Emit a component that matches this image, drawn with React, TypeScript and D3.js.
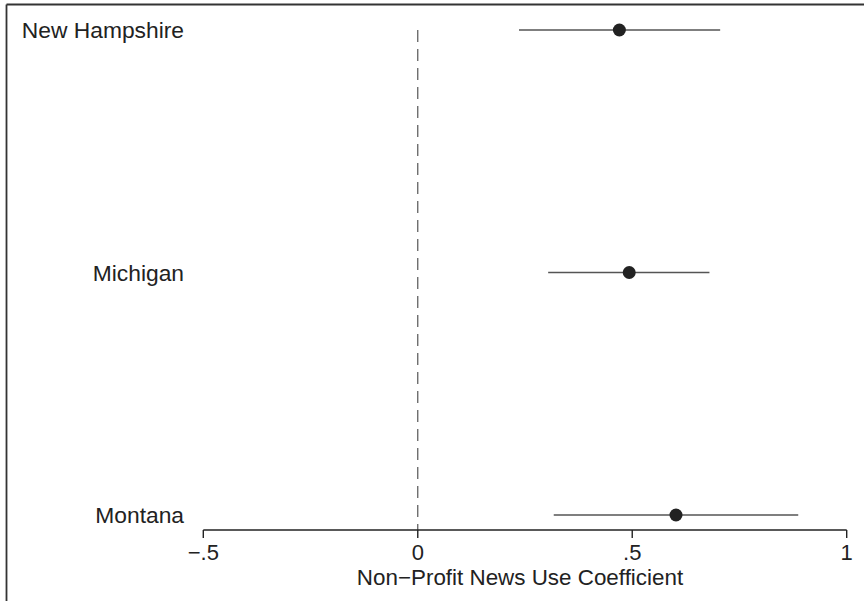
import React from "react";
import * as d3 from "d3";

// Coefficient estimates with confidence bounds, by state
const states = ["New Hampshire", "Michigan", "Montana"];
const estimates = [0.470, 0.493, 0.602];
const lowerBounds = [0.236, 0.304, 0.317];
const upperBounds = [0.705, 0.680, 0.887];

const tickValues = [-0.5, 0, 0.5, 1];
const tickLabels = ["\u2212.5", "0", ".5", "1"];
const xTitle = "Non\u2212Profit News Use Coefficient";

const W = 864;
const H = 601;
const FONT = "'Liberation Sans', Arial, Helvetica, sans-serif";

export default function App() {
  const x = d3.scaleLinear().domain([-0.5, 1]).range([203.3, 846.7]);
  const y = d3.scalePoint<string>().domain(states).range([30, 515]);
  const axisY = 530;
  const labelRight = 184;

  return (
    <svg
      width={W}
      height={H}
      style={{ position: "absolute", left: 0, top: 0, display: "block", background: "#fff" }}
      fontFamily={FONT}
    >
      {/* outer frame (top and left edges) */}
      <line x1={6.5} x2={W} y1={4.5} y2={4.5} stroke="#333" strokeWidth={1.8} />
      <line x1={6.5} x2={6.5} y1={4.5} y2={H} stroke="#333" strokeWidth={1.8} />

      {/* zero reference line */}
      <line
        x1={x(0)}
        x2={x(0)}
        y1={30}
        y2={axisY}
        stroke="#555"
        strokeWidth={1.2}
        strokeDasharray="12 7"
      />

      {/* confidence intervals and point estimates */}
      {states.map((s, i) => (
        <g key={s}>
          <line
            x1={x(lowerBounds[i])}
            x2={x(upperBounds[i])}
            y1={y(s)!}
            y2={y(s)!}
            stroke="#555"
            strokeWidth={1.5}
          />
          <circle cx={x(estimates[i])} cy={y(s)!} r={6.5} fill="#222" />
          <text
            x={labelRight}
            y={y(s)!}
            dy="0.36em"
            textAnchor="end"
            fontSize={22.8}
            fill="#222"
          >
            {s}
          </text>
        </g>
      ))}

      {/* x axis */}
      <line
        x1={x(-0.5)}
        x2={x(1)}
        y1={axisY}
        y2={axisY}
        stroke="#222"
        strokeWidth={1.4}
      />
      {tickValues.map((v, i) => (
        <g key={v}>
          <line x1={x(v)} x2={x(v)} y1={axisY} y2={axisY + 8} stroke="#222" strokeWidth={1.4} />
          <text x={x(v)} y={560} textAnchor="middle" fontSize={22} fill="#222">
            {tickLabels[i]}
          </text>
        </g>
      ))}
      <text x={520} y={584.5} textAnchor="middle" fontSize={22.4} fill="#222">
        {xTitle}
      </text>
    </svg>
  );
}
